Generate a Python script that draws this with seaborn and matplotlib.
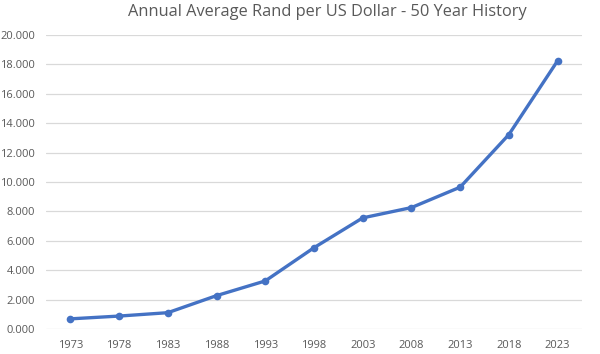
import pandas as pd
import numpy as np
import matplotlib
matplotlib.use("Agg")
import matplotlib.pyplot as plt
import seaborn as sns

years = ['1973', '1978', '1983', '1988', '1993', '1998', '2003', '2008', '2013', '2018', '2023']
rand_per_usd = [0.69, 0.88, 1.11, 2.27, 3.27, 5.53, 7.56, 8.26, 9.65, 13.23, 18.25]
y_ticks = [0, 2, 4, 6, 8, 10, 12, 14, 16, 18, 20]

df = pd.DataFrame({'year': years, 'rate': rand_per_usd})

sns.set_style('white')
plt.rcParams['font.family'] = ['Open Sans', 'DejaVu Sans']

fig = plt.figure(figsize=(6, 3.54), dpi=100)
ax = fig.add_axes([46 / 600, 1 - 329 / 354, 536 / 600, 294 / 354])

sns.lineplot(data=df, x='year', y='rate', ax=ax, color='#4472C4', linewidth=2.4,
             marker='o', markersize=5.5, markeredgewidth=0, sort=False)

ax.set_xlim(-0.5, len(years) - 0.5)
ax.set_ylim(0, 20)
ax.set_yticks(y_ticks)
ax.set_yticklabels([f'{v:.3f}' for v in y_ticks])
ax.yaxis.grid(True, color='#D9D9D9', linewidth=0.9)
ax.set_axisbelow(True)
for s in ax.spines.values():
    s.set_visible(False)
ax.tick_params(axis='both', length=0, labelsize=8, labelcolor='#595959')
ax.tick_params(axis='x', pad=8)
ax.tick_params(axis='y', pad=8)
ax.set_xlabel('')
ax.set_ylabel('')

fig.text(0.545, 0.965, 'Annual Average Rand per US Dollar - 50 Year History',
         ha='center', va='center', fontsize=11.8, color='#595959')

fig.savefig('out.png', dpi=100)
